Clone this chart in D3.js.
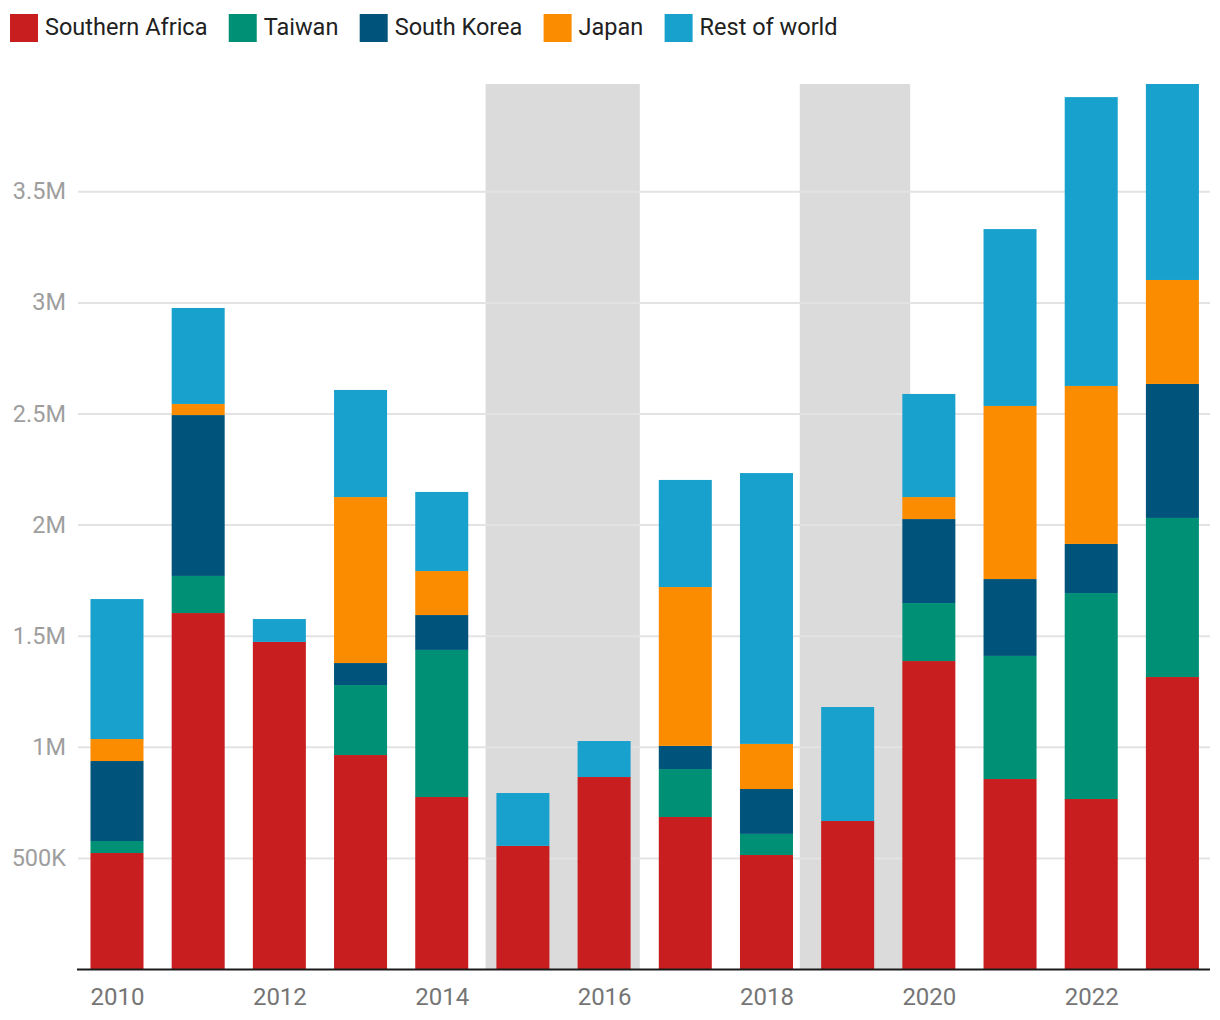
<!DOCTYPE html>
<html>
<head>
<meta charset="utf-8">
<script src="https://cdn.jsdelivr.net/npm/d3@7"></script>
<style>
  html, body { margin: 0; padding: 0; background: #fff; }
  svg { display: block; font-family: Roboto, "Noto Sans", sans-serif; }
</style>
</head>
<body>
<svg id="chart" width="1220" height="1020"></svg>
<script>
// ---------- data ----------
const years = [2010, 2011, 2012, 2013, 2014, 2015, 2016, 2017, 2018, 2019, 2020, 2021, 2022, 2023];
const seriesNames = ["Southern Africa", "Taiwan", "South Korea", "Japan", "Rest of world"];
const seriesColors = ["#c91e1f", "#009076", "#00537a", "#fb8c00", "#19a1cd"];
const southernAfrica = [522000, 1602000, 1472000, 963000, 774000, 554000, 864000, 684000, 513000, 666000, 1386000, 855000, 765000, 1314000];
const taiwan         = [54000, 167000, 0, 315000, 662000, 0, 0, 216000, 95000, 0, 261000, 554000, 927000, 716000];
const southKorea     = [360000, 724000, 0, 99000, 157000, 0, 0, 104000, 202000, 0, 378000, 346000, 221000, 603000];
const japan          = [99000, 50000, 0, 747000, 198000, 0, 0, 715000, 203000, 0, 99000, 779000, 711000, 468000];
const restOfWorld    = [630000, 432000, 103000, 482000, 356000, 238000, 162000, 482000, 1219000, 513000, 464000, 796000, 1300000, 882000];
const shadedPeriods = [[2014.54, 2016.44], [2018.41, 2019.77]];
const yTicks = [500000, 1000000, 1500000, 2000000, 2500000, 3000000, 3500000];
const xTicks = [2010, 2012, 2014, 2016, 2018, 2020, 2022];
const yMax = 3983000;

// ---------- build table ----------
const seriesValues = [southernAfrica, taiwan, southKorea, japan, restOfWorld];
const table = years.map((y, i) => {
  const row = { year: y };
  seriesNames.forEach((n, k) => row[n] = seriesValues[k][i]);
  return row;
});
const stacked = d3.stack().keys(seriesNames)(table);

// ---------- layout ----------
const svg = d3.select("#chart");
const plotLeft = 76.4, plotRight = 1213, plotTop = 84, plotBottom = 969;
const x = d3.scaleLinear().domain([2009.5, 2023.5]).range([plotLeft, plotRight]);
const y = d3.scaleLinear().domain([0, yMax]).range([plotBottom, plotTop]);
const barW = (x(2011) - x(2010)) * 0.653;
const color = d3.scaleOrdinal().domain(seriesNames).range(seriesColors);

// shaded periods
svg.append("g").selectAll("rect").data(shadedPeriods).join("rect")
  .attr("x", d => x(d[0])).attr("width", d => x(d[1]) - x(d[0]))
  .attr("y", plotTop).attr("height", plotBottom - plotTop)
  .attr("fill", "#dbdbdb");

// gridlines + y labels
const yAxis = d3.axisLeft(y).tickValues(yTicks)
  .tickSize(-(1210 - 78))
  .tickPadding(12)
  .tickFormat(v => v >= 1e6 ? (v / 1e6) + "M" : (v / 1e3) + "K");
const gy = svg.append("g").attr("transform", "translate(78,0)").call(yAxis);
gy.select(".domain").remove();
gy.selectAll(".tick line").attr("stroke", "#e3e3e3").attr("stroke-width", 2);
gy.selectAll(".tick text").attr("fill", "#9e9e9e").attr("font-size", 23.5)
  .attr("font-family", "Roboto, sans-serif");

// bars
svg.append("g").selectAll("g").data(stacked).join("g")
  .attr("fill", d => color(d.key))
  .selectAll("rect").data(d => d.filter(p => p[1] - p[0] > 0)).join("rect")
  .attr("x", d => x(d.data.year) - barW / 2)
  .attr("width", barW)
  .attr("y", d => y(d[1]))
  .attr("height", d => y(d[0]) - y(d[1]));

// x axis
const xAxis = d3.axisBottom(x).tickValues(xTicks).tickFormat(d3.format("d"))
  .tickSize(0).tickPadding(19);
const gx = svg.append("g").attr("transform", `translate(0,${plotBottom})`).call(xAxis);
gx.select(".domain").remove();
gx.selectAll(".tick text").attr("fill", "#757575").attr("font-size", 24)
  .attr("font-family", "Roboto, sans-serif");
svg.append("line").attr("x1", 77).attr("x2", 1210)
  .attr("y1", plotBottom + 0.5).attr("y2", plotBottom + 0.5)
  .attr("stroke", "#1a1a1a").attr("stroke-width", 2);

// legend
const legend = svg.append("g");
let lx = 10;
seriesNames.forEach((n, k) => {
  legend.append("rect").attr("x", lx).attr("y", 14).attr("width", 28).attr("height", 28)
    .attr("fill", seriesColors[k]);
  const t = legend.append("text").attr("x", lx + 35).attr("y", 35)
    .attr("font-size", 23.5).attr("fill", "#212121").text(n);
  lx += 35 + t.node().getComputedTextLength() + 21.3;
});
</script>
</body>
</html>
